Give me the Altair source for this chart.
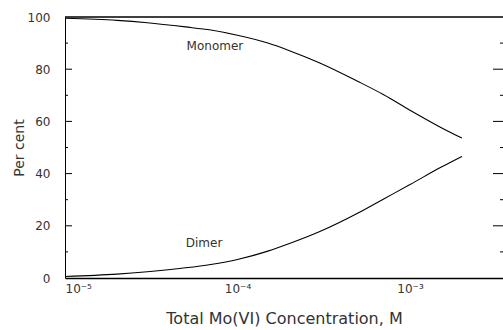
import altair as alt
import pandas as pd

# Total Mo(VI) concentration (M) and the share of Mo present as monomer / dimer (%)
conc = [1e-5, 2e-5, 3e-5, 5e-5, 7e-5, 1e-4, 1.5e-4, 2e-4, 3e-4, 5e-4, 7e-4, 1e-3, 1.5e-3, 2e-3]
monomer = [99.5, 98.7, 97.8, 96.2, 95.0, 93.0, 90.0, 87.1, 82.4, 75.3, 70.3, 64.3, 57.8, 53.6]
dimer = [0.6, 1.5, 2.4, 3.9, 5.2, 7.1, 10.3, 13.2, 17.8, 24.9, 30.2, 35.8, 42.3, 46.6]

x_ticks = [1e-5, 1e-4, 1e-3]
x_tick_labels = ["10⁻⁵", "10⁻⁴", "10⁻³"]
y_ticks = [0, 20, 40, 60, 80, 100]
y_minor = [10, 30, 50, 70, 90]
y_major_inner = [20, 40, 60, 80]

curve_labels = ["Monomer", "Dimer"]
label_conc = [7.4e-5, 6.4e-5]
label_pct = [89.0, 13.3]

W, H = 438, 261
X_MAX = 3.46e-3
FONT = "DejaVu Sans"
INK = "#333333"

rows = []
for c, m, d in zip(conc, monomer, dimer):
    rows.append({"conc": c, "pct": m, "species": "Monomer"})
    rows.append({"conc": c, "pct": d, "species": "Dimer"})
curves = pd.DataFrame(rows)

label_expr = " : ".join(
    f"datum.value < {v * 1.5} ? '{t}'" for v, t in zip(x_ticks, x_tick_labels)
) + " : ''"

x_scale = alt.Scale(type="log", domain=[1e-5, X_MAX], nice=False)
y_scale = alt.Scale(domain=[0, 100], nice=False)

x_enc = alt.X(
    "conc:Q",
    scale=x_scale,
    axis=alt.Axis(
        values=x_ticks,
        labelExpr=label_expr,
        title="Total  Mo(VI)  Concentration,   M",
        ticks=False,
        tickSize=0,
        labelPadding=5,
        labelFontSize=12,
        titleFontSize=16,
        titleFontWeight="normal",
        titlePadding=16,
        grid=False,
        domainWidth=1.6,
    ),
)
y_enc = alt.Y(
    "pct:Q",
    scale=y_scale,
    axis=alt.Axis(
        values=y_ticks,
        title="Per cent",
        ticks=False,
        tickSize=0,
        labelPadding=15,
        labelFontSize=12,
        titleFontSize=14,
        titleFontWeight="normal",
        titlePadding=1,
        grid=False,
        domainWidth=1.0,
    ),
)

lines = (
    alt.Chart(curves)
    .mark_line(color="black", strokeWidth=1.1, interpolate="monotone")
    .encode(x=x_enc, y=y_enc, detail="species:N")
)

labels = (
    alt.Chart(pd.DataFrame({"conc": label_conc, "pct": label_pct, "txt": curve_labels}))
    .mark_text(font=FONT, fontSize=12, color=INK, align="center", baseline="middle")
    .encode(x=alt.X("conc:Q", scale=x_scale), y=alt.Y("pct:Q", scale=y_scale), text="txt:N")
)

# frame line along the top of the plot
top_line = (
    alt.Chart(pd.DataFrame({"pct": [100]}))
    .mark_rule(color="black", strokeWidth=1.6)
    .encode(y=alt.Y("pct:Q", scale=y_scale), x=alt.value(0), x2=alt.value(W))
)

# inward tick marks on the left and right edges
def ticks(vals, x0, x1):
    return (
        alt.Chart(pd.DataFrame({"pct": vals}))
        .mark_rule(color="black", strokeWidth=1.0)
        .encode(y=alt.Y("pct:Q", scale=y_scale), x=alt.value(x0), x2=alt.value(x1))
    )

left_major = ticks(y_major_inner, 0, 7)
left_minor = ticks(y_minor, 0, 3)
right_major = ticks(y_major_inner, W - 10, W)
right_minor = ticks(y_minor, W - 3, W)

chart = (
    alt.layer(lines, labels, top_line, left_major, left_minor, right_major, right_minor)
    .properties(
        width=W,
        height=H,
        autosize=alt.AutoSizeParams(type="none"),
        padding={"left": 65, "top": 17, "right": 0, "bottom": 52},
        background="white",
    )
    .configure_view(stroke=None)
    .configure_axis(
        labelFont=FONT,
        titleFont=FONT,
        labelColor=INK,
        titleColor=INK,
        domainColor="black",
    )
)

chart.save("out.html", embed_options={"renderer": "svg", "actions": False})
